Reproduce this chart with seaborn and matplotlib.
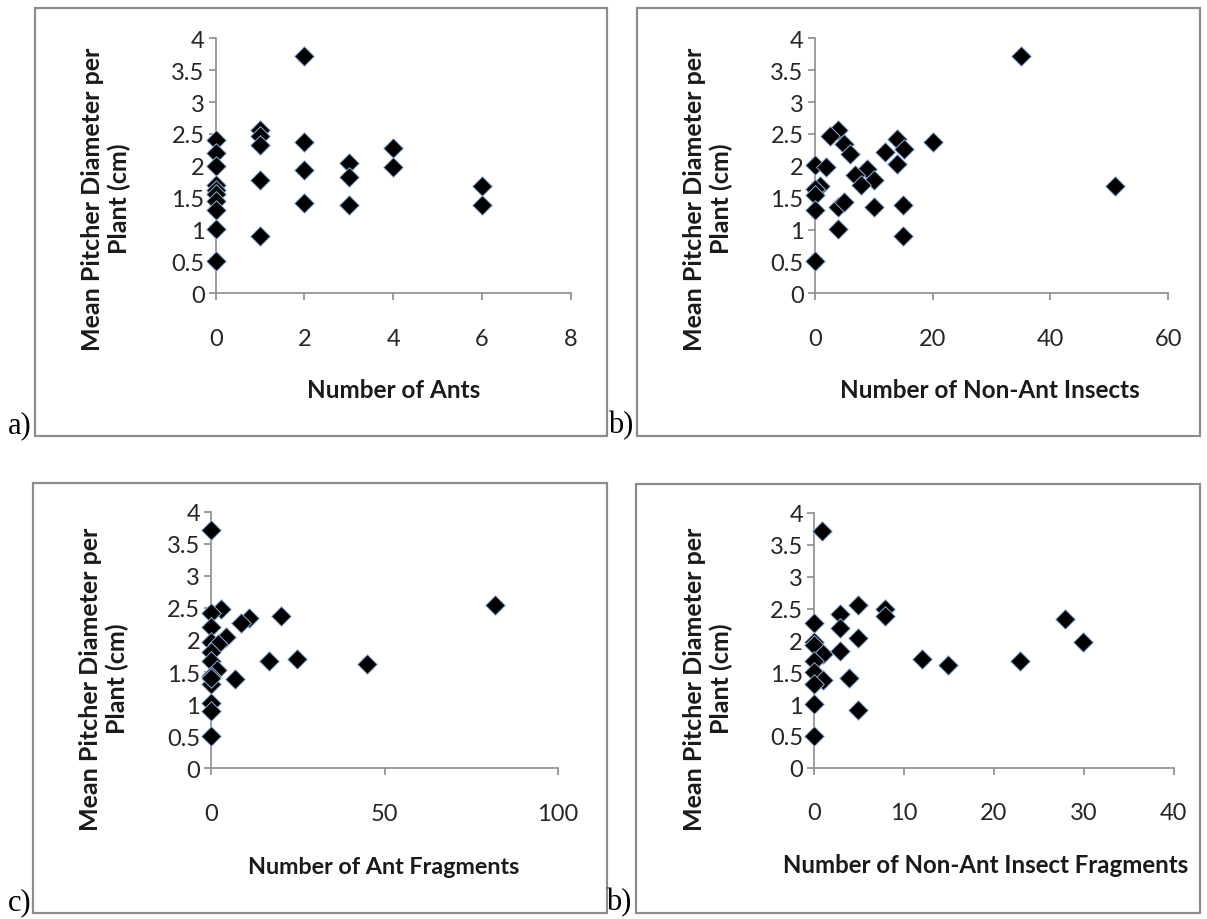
import matplotlib
matplotlib.use('Agg')
import matplotlib.pyplot as plt
import matplotlib.patches as patches
import seaborn as sns
import pandas as pd

# panel a) ants vs mean pitcher diameter
ants = [0, 0, 0, 0, 0, 0, 0, 0, 0, 0,
        1, 1, 1, 1, 1,
        2, 2, 2, 2,
        3, 3, 3,
        4, 4,
        6, 6]
ants_diam = [2.41, 2.20, 2.00, 1.70, 1.62, 1.55, 1.45, 1.31, 1.01, 0.50,
             2.56, 2.47, 2.33, 1.77, 0.90,
             3.72, 2.38, 1.94, 1.42,
             2.04, 1.83, 1.39,
             2.28, 1.98,
             1.69, 1.38]

# panel b) non-ant insects
insects = [35, 51, 20, 3.9, 2.6, 4.9, 6, 13.9, 15.2, 12, 13.9, 0, 2, 8.8,
           6.8, 10.1, 7.9, 0.9, 0, 0, 0, 3.9, 4.9, 10, 14.9, 3.9, 14.9, 0]
insects_diam = [3.72, 1.69, 2.38, 2.56, 2.46, 2.34, 2.19, 2.42, 2.26, 2.21, 2.03, 2.01, 1.98, 1.95,
                1.85, 1.77, 1.70, 1.69, 1.63, 1.54, 1.31, 1.36, 1.43, 1.36, 1.39, 1.01, 0.90, 0.50]

# panel c) ant fragments
ant_frag = [0, 81.8, 2.7, 0, 20, 11, 8.5, 0, 4.1, 0, 2, 0, 0, 16.7, 24.6, 44.8,
            1.7, 0, 6.8, 0, 0, 0, 0, 0]
ant_frag_diam = [3.72, 2.55, 2.49, 2.42, 2.38, 2.35, 2.26, 2.21, 2.05, 1.97, 1.94, 1.82, 1.68, 1.68, 1.70, 1.63,
                 1.54, 1.44, 1.39, 1.31, 1.02, 0.89, 0.50, 1.40]

# panel d) non-ant insect fragments
insect_frag = [0.9, 4.9, 7.9, 7.9, 2.9, 0, 2.9, 27.9, 29.9, 4.9, 0, 0, 1.0, 2.9,
               0, 12, 14.9, 22.9, 0, 1.0, 3.9, 0, 0, 4.9, 0]
insect_frag_diam = [3.71, 2.55, 2.49, 2.38, 2.42, 2.27, 2.20, 2.34, 1.98, 2.04, 1.98, 1.93, 1.79, 1.83,
                    1.68, 1.70, 1.62, 1.68, 1.50, 1.38, 1.41, 1.31, 1.00, 0.91, 0.50]

y_ticks = [0, 0.5, 1, 1.5, 2, 2.5, 3, 3.5, 4]
y_tick_labels = ['0', '0.5', '1', '1.5', '2', '2.5', '3', '3.5', '4']
y_title = 'Mean Pitcher Diameter per\nPlant (cm)'

panels = [
    # x, y, xmax, xticks, xlabel, letter
    (ants, ants_diam, 8, [0, 2, 4, 6, 8], 'Number of Ants', 'a)'),
    (insects, insects_diam, 60, [0, 20, 40, 60], 'Number of Non-Ant Insects', 'b)'),
    (ant_frag, ant_frag_diam, 100, [0, 50, 100], 'Number of Ant Fragments', 'c)'),
    (insect_frag, insect_frag_diam, 40, [0, 10, 20, 30, 40], 'Number of Non-Ant Insect Fragments', 'b)'),
]

# pixel layout of the figure (1207 x 920)
W, H = 1207, 920
axes_px = [(215.7, 39.3, 570.7, 294.3), (814.7, 39.3, 1168.3, 294.3),
           (211.3, 512.7, 558.0, 769.3), (814.0, 514.0, 1173.7, 768.7)]
boxes_px = [(35, 9, 607, 437), (637, 9, 1200, 437),
            (33, 484, 607, 914), (636, 485, 1200, 914)]
ylab_px = [(106, 199), (708, 199), (104, 679), (708, 679)]
xlab_px = [(394, 390), (990, 390), (384, 868), (986, 866)]
xlab_size = [17.5, 17.5, 16.8, 17.3]
letter_px = [(8, 440), (608, 440), (8, 917), (606, 917)]

sns.set_style("ticks")
plt.rcParams['font.family'] = ['Lato', 'DejaVu Sans']

fig = plt.figure(figsize=(W / 100, H / 100), dpi=100)
fig.patch.set_facecolor('white')

for (x, y, xmax, xticks, xlabel, letter), ap, bp, yl, xl, xs, lp in zip(
        panels, axes_px, boxes_px, ylab_px, xlab_px, xlab_size, letter_px):
    # panel frame
    x0, y0, x1, y1 = bp
    fig.patches.append(patches.Rectangle((x0 / W, 1 - y1 / H), (x1 - x0) / W, (y1 - y0) / H,
                                         transform=fig.transFigure, fill=False,
                                         edgecolor='#8c8c8c', linewidth=1.6))
    l, t, r, b = ap
    ax = fig.add_axes([l / W, 1 - b / H, (r - l) / W, (b - t) / H])
    df = pd.DataFrame({'x': x, 'y': y})
    sns.scatterplot(data=df, x='x', y='y', ax=ax, marker='D', s=100, color='black',
                    edgecolor='#8fb3dd', linewidth=0.7, clip_on=False, zorder=3)
    ax.set_xlim(0, xmax)
    ax.set_ylim(0, 4)
    ax.set_xticks(xticks)
    ax.set_xticklabels([str(v) for v in xticks])
    ax.set_yticks(y_ticks)
    ax.set_yticklabels(y_tick_labels)
    ax.set_xlabel('')
    ax.set_ylabel('')
    for s in ['top', 'right']:
        ax.spines[s].set_visible(False)
    for s in ['left', 'bottom']:
        ax.spines[s].set_color('#8c8c8c')
        ax.spines[s].set_linewidth(1.2)
    ax.tick_params(axis='both', colors='#8c8c8c', length=5, width=1.2,
                   labelsize=17, labelcolor='#262626')
    ax.tick_params(axis='x', pad=20)
    ax.tick_params(axis='y', pad=3)
    ax.set_facecolor('none')

    fig.text(yl[0] / W, 1 - yl[1] / H, y_title, rotation=90, ha='center', va='center',
             fontsize=18, fontweight='bold', color='#1a1a1a', linespacing=1.15,
             multialignment='center')
    fig.text(xl[0] / W, 1 - xl[1] / H, xlabel, ha='center', va='center',
             fontsize=xs, fontweight='bold', color='#1a1a1a')
    fig.text(lp[0] / W, 1 - lp[1] / H, letter, ha='left', va='bottom',
             fontsize=22, family='Liberation Serif', color='black')

plt.savefig('out.png', dpi=100, facecolor='white')
plt.close()
